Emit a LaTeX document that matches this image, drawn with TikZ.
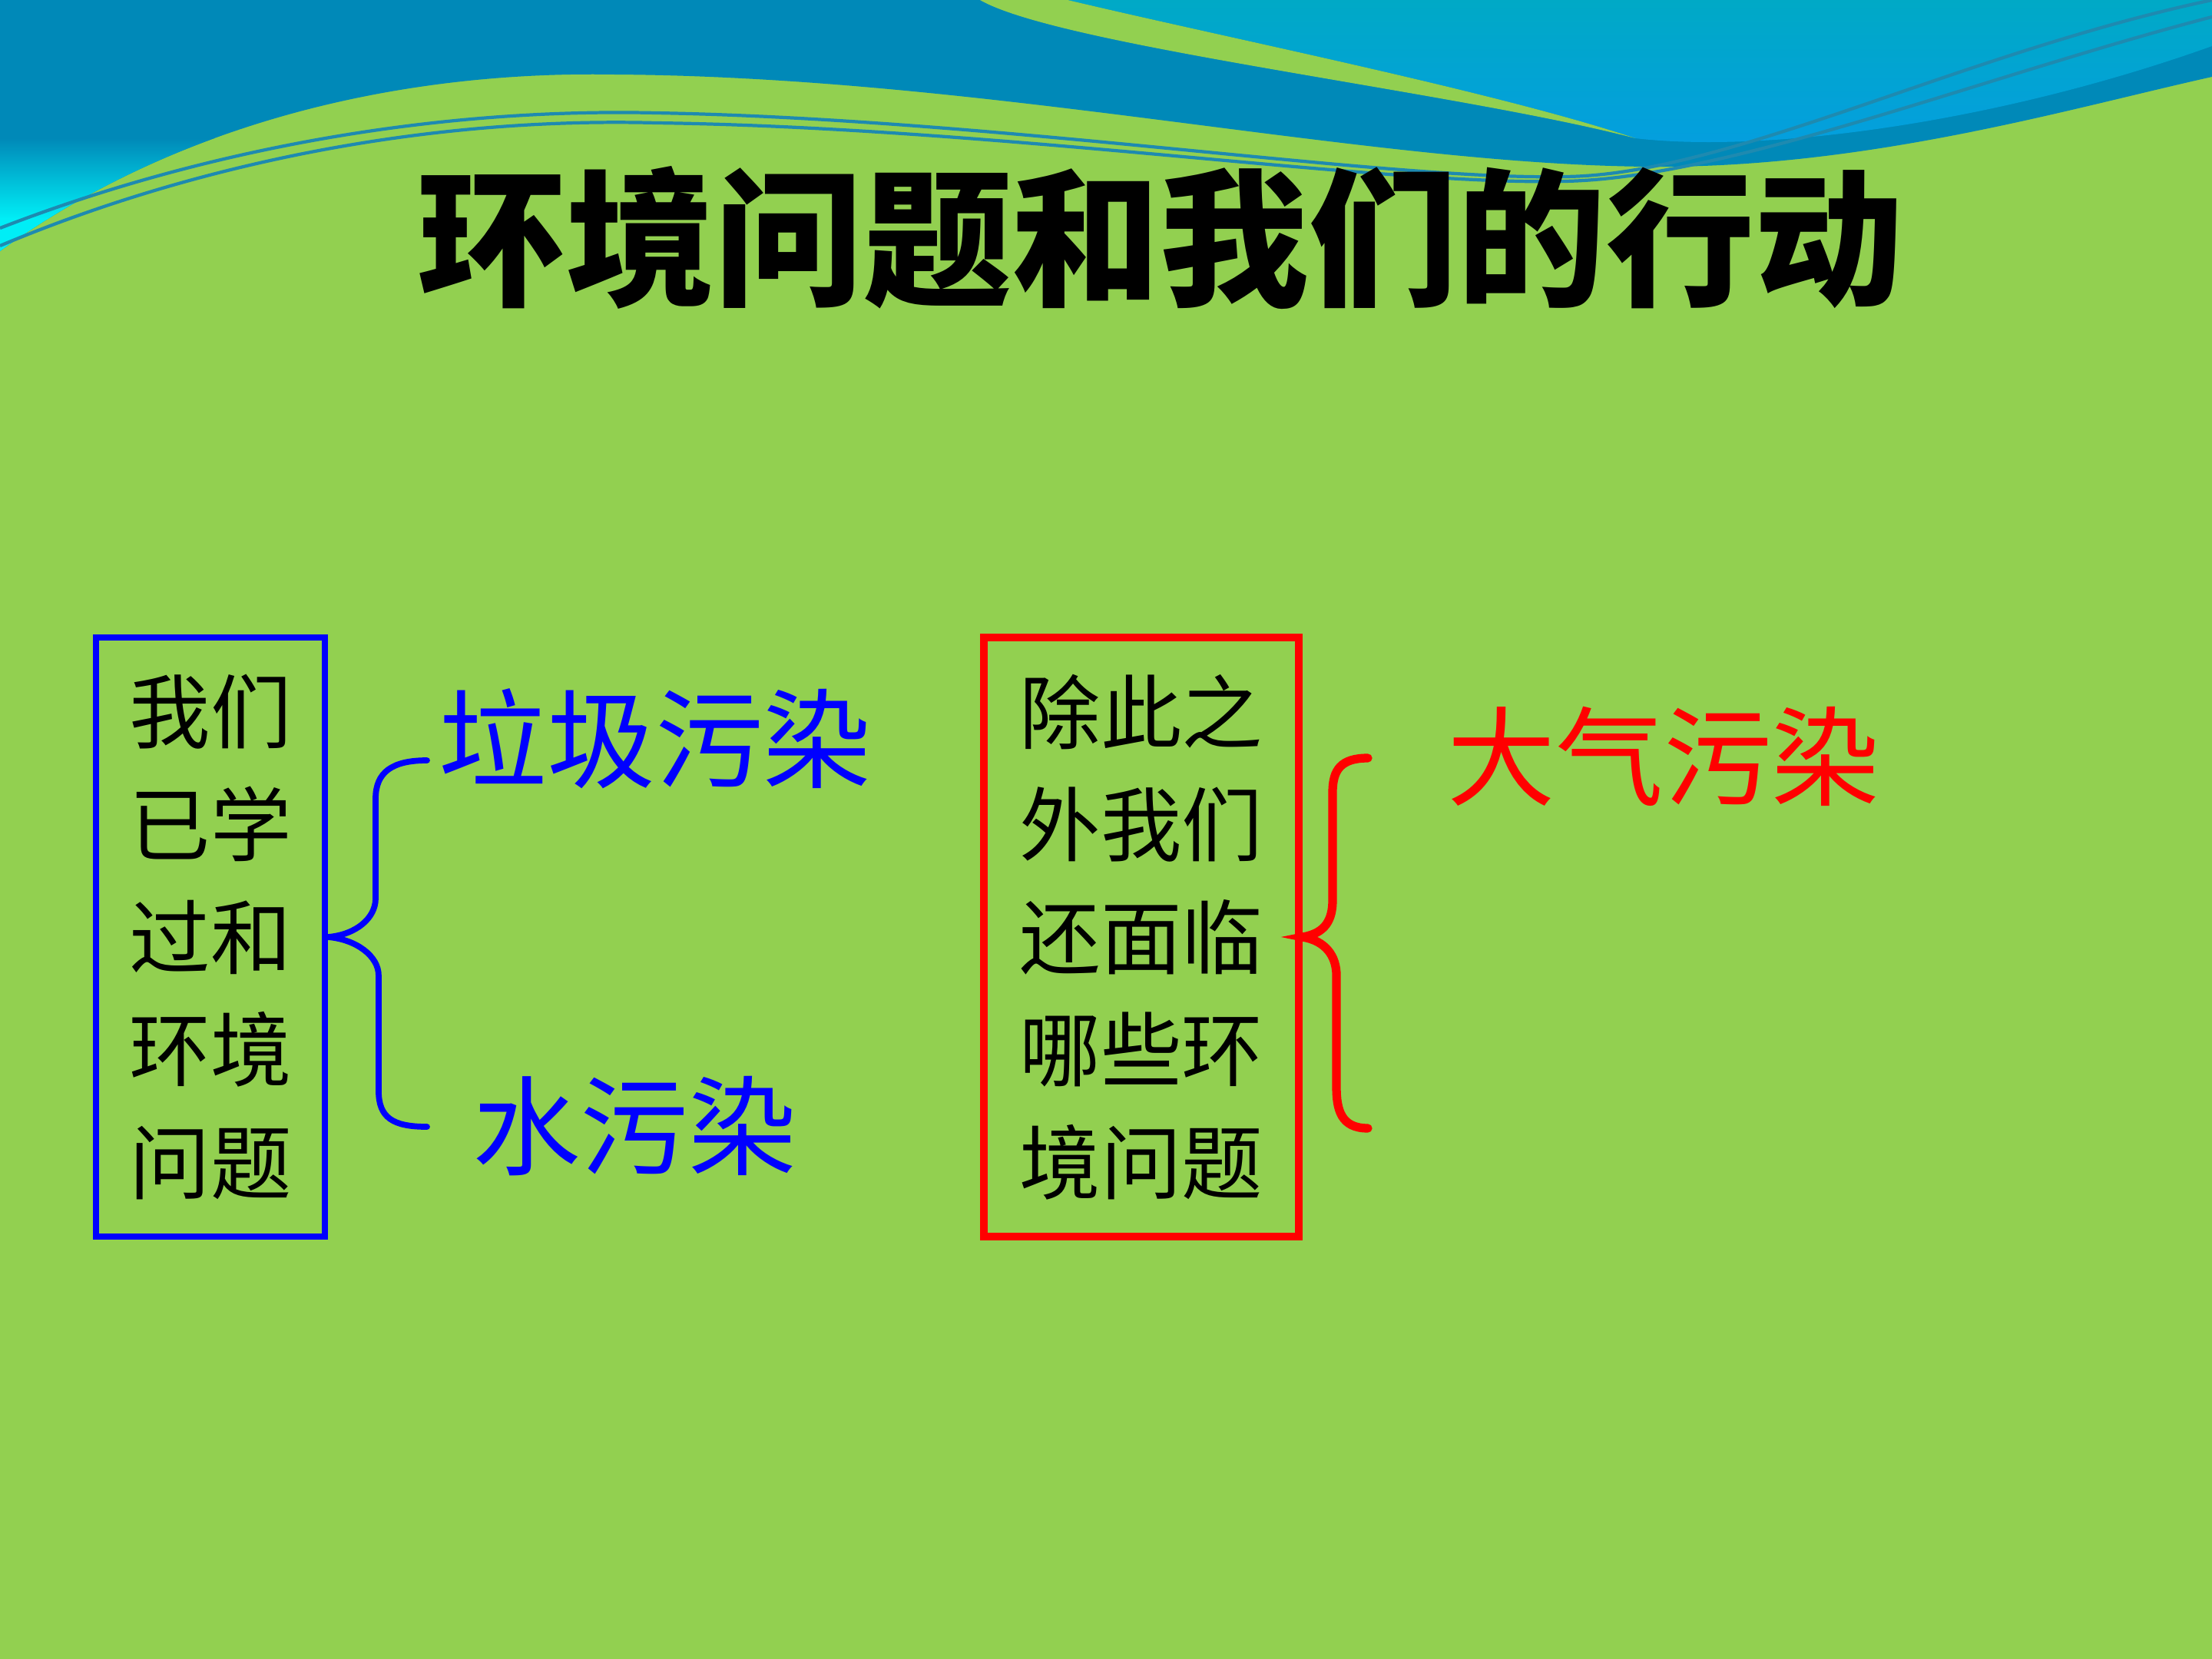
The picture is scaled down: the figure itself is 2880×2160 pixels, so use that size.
\documentclass[tikz,border=0pt]{standalone}
\usepackage{fontspec}
\newfontfamily\cjk{Noto Sans CJK SC}
\usetikzlibrary{positioning}
\definecolor{slidegreen}{HTML}{92D050}
\definecolor{deepblue}{HTML}{0089B8}
\definecolor{skycyan}{HTML}{00EEF6}
\definecolor{seateal}{HTML}{00A9C6}
\definecolor{brightblue}{HTML}{049EE0}
\definecolor{wireblue}{HTML}{1E8AB0}
\definecolor{pureblue}{HTML}{0000FF}
\definecolor{purered}{HTML}{FF0000}

\begin{document}
\begin{tikzpicture}[
    x=0.01cm, y=-0.01cm,
    framebox/.style={draw, line width=2.2pt, minimum width=2.98cm, minimum height=7.8cm, inner sep=0pt, align=center, font=\cjk\fontsize{30}{41.7}\selectfont},
    pollution/.style={inner sep=0pt, font=\cjk\fontsize{40}{48}\selectfont},
    brace/.style={line width=2.2pt, line cap=round},
    wire/.style={wireblue, line width=1.2pt}
  ]
  \useasboundingbox (0,0) rectangle (2880,2160);
  % slide background and top banner
  \fill[slidegreen] (0,0) rectangle (2880,2160);
  \begin{scope}
    \clip (0,0) -- (2880,0) -- (2880,100) .. controls (2700,140) and (2450,214) .. (2175,217)
      .. controls (1800,220) and (1300,100) .. (800,97) .. controls (520,92) and (230,160) .. (0,327) -- cycle;
    \fill[deepblue] (0,0) rectangle (2880,420);
    \shade[top color=deepblue, bottom color=skycyan] (0,180) rectangle (1300,285);
    \fill[skycyan] (0,284) rectangle (1300,420);
    \shade[top color=seateal, bottom color=brightblue] (1390,0) .. controls (1600,50) and (1950,120) .. (2129,180)
      .. controls (2300,200) and (2600,160) .. (2880,60) -- (2880,0) -- cycle;
    \fill[slidegreen] (1276,0) .. controls (1380,60) and (1900,120) .. (2129,180)
      .. controls (1950,120) and (1600,50) .. (1390,0) -- cycle;
  \end{scope}
  \draw[wire] (0,297) .. controls (250,200) and (550,140) .. (854,147)
    .. controls (1300,155) and (1800,235) .. (2037,230) .. controls (2250,228) and (2550,70) .. (2880,0);
  \draw[wire] (0,320) .. controls (250,215) and (550,152) .. (854,160)
    .. controls (1300,166) and (1800,242) .. (2037,236) .. controls (2250,232) and (2580,100) .. (2880,22);

  % title
  \node[font=\cjk\bfseries\fontsize{55}{60}\selectfont] (title) at (1511,310) {环境问题和我们的行动};

  % question boxes
  \node[framebox, pureblue, text=black] (learned) at (274,1220) {我们\\已学\\过和\\环境\\问题};
  \node[framebox, purered, text=black, line width=2.8pt, minimum width=4.1cm] (others) at (1486,1220) {除此之\\外我们\\还面临\\哪些环\\境问题};

  % answers
  \node[pollution, pureblue] (garbage) at (853,962) {垃圾污染};
  \node[pollution, pureblue] (water) at (826,1466) {水污染};
  \node[pollution, purered] (air) at (2166,985) {大气污染};

  % braces
  \coordinate (gtop) at (556,990);
  \coordinate (gbot) at (556,1467);
  \draw[brace, pureblue] (gtop) .. controls +(-45,0) and +(0,-35) .. ++(-67,50) -- ++(0,130)
    .. controls +(0,25) and +(37,-3) .. (learned.east)
    .. controls +(37,3) and +(0,-25) .. ++(66,50) -- ++(0,150)
    .. controls +(0,35) and +(-45,0) .. (gbot);
  \coordinate (atop) at (1781,987);
  \coordinate (abot) at (1781,1469);
  \draw[brace, purered, line width=3.2pt] (atop) .. controls +(-35,0) and +(0,-30) .. ++(-46,45) -- ++(0,140)
    .. controls +(0,25) and +(30,-5) .. (others.east)
    .. controls +(30,5) and +(0,-25) .. ++(44,50) -- ++(0,145)
    .. controls +(0,30) and +(-35,0) .. (abot);
\end{tikzpicture}
\end{document}
